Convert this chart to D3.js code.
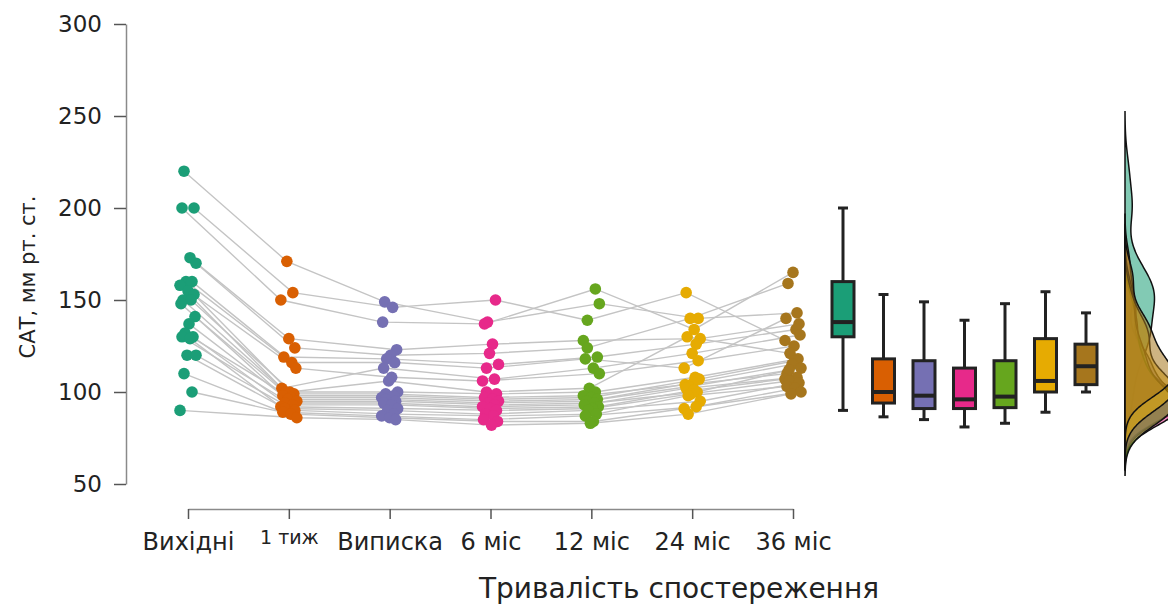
<!DOCTYPE html>
<html>
<head>
<meta charset="utf-8">
<script src="https://cdn.jsdelivr.net/npm/d3@7"></script>
<style>
  body { margin: 0; background: #fff; }
  svg { display: block; }
  svg text { font-family: "DejaVu Sans", sans-serif; }
</style>
</head>
<body>
<div id="viz"></div>
<script>
// timepoints
const groups = ["Вихідні", "1 тиж", "Виписка", "6 міс", "12 міс", "24 міс", "36 міс"];
const colors = ["#1b9e77", "#d95f02", "#7570b3", "#e7298a", "#66a61e", "#e6ab02", "#a6761d"];

// SBP per patient (same patient order in every array)
const baseline  = [220, 200, 200, 173, 170, 160, 160, 158, 155, 153, 150, 150, 148, 141, 137, 132, 130, 130, 129, 120, 120, 110, 100, 90];
const week1     = [171, 154, 150, 129, 124, 119, 116, 102, 113, 100, 100, 99, 98, 97, 96, 95, 94, 93, 92, 91, 90, 89, 88, 86];
const discharge = [149, 146, 138, 123, 120, 118, 116, 113, 108, 106, 100, 99, 98, 97, 96, 95, 94, 93, 91, 90, 88, 87, 86, 85];
const month6    = [138, 150, 137, 126, 121, 115, 113, 107, 106, 100, 99, 97, 96, 95, 94, 93, 92, 91, 90, 88, 87, 85, 84, 82];
const month12   = [148, 139, 156, 128, 124, 119, 118, 113, 110, 102, 100, 98, 97, 96, 95, 94, 93, 92, 91, 90, 88, 87, 84, 83];
const month24   = [140, 154, 134, 129, 140, 126, 113, 121, 117, 130, 108, 104, 107, 105, 103, 100, 102, 101, 99, 95, 98, 92, 91, 88];
const month36   = [143, 128, 165, 137, 159, 134, 140, 131, 125, 121, 118, 110, 117, 115, 113, 112, 108, 107, 106, 105, 103, 102, 100, 99];
const series = [baseline, week1, discharge, month6, month12, month24, month36];

// box stats: [lower whisker, q1, median, q3, upper whisker]
const boxStats = [
  [90, 130, 138, 160, 200],
  [86.5, 94, 100, 118, 153],
  [85, 91, 98, 117, 149],
  [81, 91, 96, 113, 139],
  [83, 91.5, 97.5, 117, 148],
  [89, 100, 106, 129, 154.5],
  [100, 104, 114, 126, 143]
];

const yTicks = [50, 100, 150, 200, 250, 300];

// horizontal jitter pattern (px)
const jitter = [-4, 6, -6, 2, 8, -2, 4, -8, 0, 6, -5, 3, -7, 7, 1, -3, 5, -6, 2, -1, 8, -4, 4, -8];

const W = 1168, H = 604;
const svg = d3.select("#viz").append("svg").attr("width", W).attr("height", H);

const y = d3.scaleLinear().domain([50, 300]).range([484, 24]);
const x = d3.scalePoint().domain(groups).range([188, 793]);
const xBox = d3.scalePoint().domain(groups).range([843, 1086]);
const densBase = 1125;

// y axis
const yAxis = svg.append("g")
  .attr("transform", "translate(126,0)")
  .call(d3.axisLeft(y).tickValues(yTicks).tickSize(12).tickSizeOuter(0).tickPadding(12));
yAxis.select(".domain").attr("stroke", "#8a8a8a").attr("stroke-width", 1.5);
yAxis.selectAll(".tick line").attr("stroke", "#555").attr("stroke-width", 1.5);
yAxis.selectAll(".tick text").attr("font-size", "23px").attr("fill", "#222");

svg.append("text")
  .attr("transform", "translate(35,277) rotate(-90)")
  .attr("text-anchor", "middle")
  .attr("font-size", "21px")
  .attr("fill", "#222")
  .text("САТ, мм рт. ст.");

// x axis
const xAxis = svg.append("g")
  .attr("transform", "translate(0,509)")
  .call(d3.axisBottom(x).tickSize(10).tickSizeOuter(0).tickPadding(14));
xAxis.select(".domain").attr("stroke", "#8a8a8a").attr("stroke-width", 1.5);
xAxis.selectAll(".tick line").attr("stroke", "#555").attr("stroke-width", 1.5);
xAxis.selectAll(".tick text")
  .attr("font-size", d => d === "1 тиж" ? "19px" : "24px")
  .attr("dy", d => d === "1 тиж" ? "0.6em" : "0.71em")
  .attr("fill", "#222");

svg.append("text")
  .attr("x", 679).attr("y", 598)
  .attr("text-anchor", "middle")
  .attr("font-size", "28px")
  .attr("fill", "#222")
  .text("Тривалість спостереження");

// point positions
const px = (g, i) => x(groups[g]) + jitter[(i + g * 5) % jitter.length];

// connecting lines for each patient
const line = d3.line().x(d => d[0]).y(d => d[1]);
baseline.forEach((_, i) => {
  const pts = series.map((s, g) => [px(g, i), y(s[i])]);
  svg.append("path")
    .attr("d", line(pts))
    .attr("fill", "none")
    .attr("stroke", "#c4c4c4")
    .attr("stroke-width", 1.4);
});

// dots
series.forEach((s, g) => {
  svg.append("g").selectAll("circle")
    .data(s)
    .enter()
    .append("circle")
    .attr("cx", (d, i) => px(g, i))
    .attr("cy", d => y(d))
    .attr("r", 5.8)
    .attr("fill", colors[g]);
});

// box plots
const bw = 22;
boxStats.forEach((b, g) => {
  const cx = xBox(groups[g]);
  const gb = svg.append("g").attr("stroke", "#222").attr("stroke-width", 3);
  gb.append("line").attr("x1", cx).attr("x2", cx).attr("y1", y(b[0])).attr("y2", y(b[4]));
  gb.append("line").attr("x1", cx - 5).attr("x2", cx + 5).attr("y1", y(b[0])).attr("y2", y(b[0]));
  gb.append("line").attr("x1", cx - 5).attr("x2", cx + 5).attr("y1", y(b[4])).attr("y2", y(b[4]));
  gb.append("rect")
    .attr("x", cx - bw / 2).attr("width", bw)
    .attr("y", y(b[3])).attr("height", y(b[1]) - y(b[3]))
    .attr("fill", colors[g]);
  gb.append("line").attr("x1", cx - bw / 2).attr("x2", cx + bw / 2)
    .attr("y1", y(b[2])).attr("y2", y(b[2])).attr("stroke-width", 4);
});

// densities (gaussian KDE, Silverman bandwidth)
function bwNrd0(v) {
  const sd = d3.deviation(v);
  const s = v.slice().sort(d3.ascending);
  const iqr = d3.quantileSorted(s, 0.75) - d3.quantileSorted(s, 0.25);
  return 0.9 * Math.min(sd, iqr / 1.34) * Math.pow(v.length, -0.2);
}
const dScale = d3.scaleLinear().domain([0, 0.012]).range([densBase, densBase + 25]);
series.forEach((s, g) => {
  const h = bwNrd0(s);
  const lo = d3.min(s) - 3 * h, hi = d3.max(s) + 3 * h;
  const grid = d3.range(0, 201).map(k => lo + (hi - lo) * k / 200);
  const dens = grid.map(t => [t, d3.mean(s, v => Math.exp(-0.5 * ((t - v) / h) ** 2)) / (h * Math.sqrt(2 * Math.PI))]);
  const area = d3.area()
    .y(d => y(d[0]))
    .x0(densBase)
    .x1(d => dScale(d[1]))
    .curve(d3.curveBasis);
  svg.append("path")
    .attr("d", area(dens))
    .attr("fill", colors[g])
    .attr("fill-opacity", 0.55)
    .attr("stroke", "#111")
    .attr("stroke-width", 1.5);
});
</script>
</body>
</html>
